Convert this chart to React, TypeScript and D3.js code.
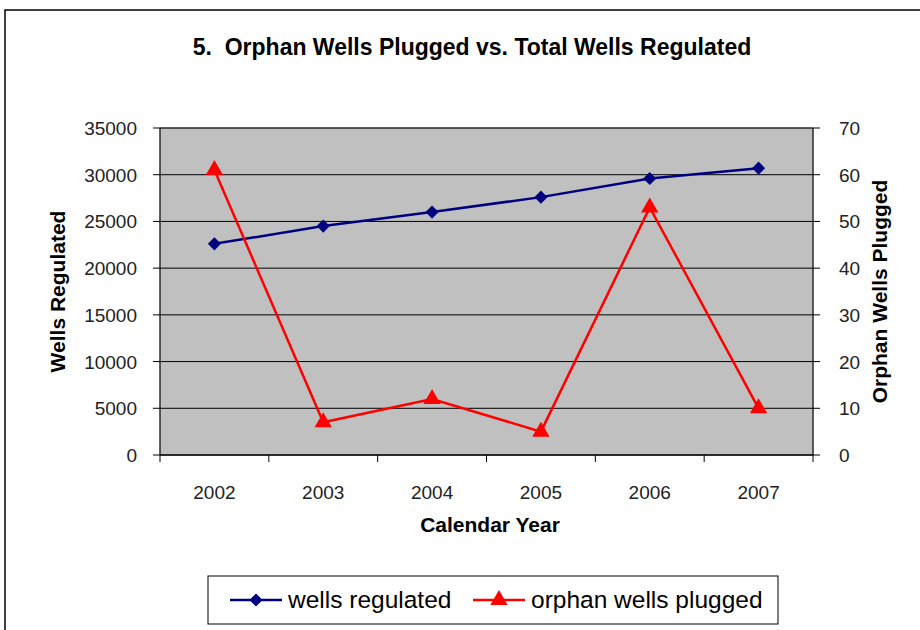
import React from 'react';
import * as d3 from 'd3';

const years = ['2002', '2003', '2004', '2005', '2006', '2007'];
const wellsRegulated = [22600, 24500, 26000, 27600, 29600, 30700];
const orphanPlugged = [61, 7, 12, 5, 53, 10];
const leftTicks = [0, 5000, 10000, 15000, 20000, 25000, 30000, 35000];
const rightTicks = [0, 10, 20, 30, 40, 50, 60, 70];

const W = 920;
const H = 630;
const m = { left: 160, right: 813, top: 128, bottom: 455 };
const font = 'Arial, "Liberation Sans", sans-serif';

const App: React.FC = () => {
  const x = d3.scaleBand<string>().domain(years).range([m.left, m.right]);
  const yL = d3.scaleLinear().domain([0, 35000]).range([m.bottom, m.top]);
  const yR = d3.scaleLinear().domain([0, 70]).range([m.bottom, m.top]);
  const cx = (d: string) => (x(d) as number) + x.bandwidth() / 2;

  const blueLine = d3.line<number>()
    .x((_, i) => cx(years[i]))
    .y(d => yL(d));
  const redLine = d3.line<number>()
    .x((_, i) => cx(years[i]))
    .y(d => yR(d));

  const diamond = d3.symbol().type(d3.symbolDiamond2).size(110)() as string;
  const triangle = d3.symbol().type(d3.symbolTriangle).size(130)() as string;

  return (
    <svg width={W} height={H} style={{ position: 'absolute', left: 0, top: 0 }} fontFamily={font}>
      <rect x={0} y={0} width={W} height={H} fill="#fff" />
      {/* outer chart border */}
      <rect x={5} y={10} width={W + 10} height={H + 10} fill="none" stroke="#000" strokeWidth={1.5} />

      <text x={472} y={55} textAnchor="middle" fontSize={23} fontWeight="bold" style={{ whiteSpace: 'pre' }}>
        {'5.  Orphan Wells Plugged vs. Total Wells Regulated'}
      </text>

      {/* plot area */}
      <rect x={m.left} y={m.top} width={m.right - m.left} height={m.bottom - m.top} fill="#c0c0c0" stroke="#808080" />

      {/* gridlines */}
      {leftTicks.map(t => (
        <line key={`g-${t}`} x1={m.left} x2={m.right} y1={yL(t)} y2={yL(t)} stroke="#000" strokeWidth={1} />
      ))}

      {/* left axis */}
      <line x1={m.left} x2={m.left} y1={m.top} y2={m.bottom} stroke="#000" />
      {leftTicks.map(t => (
        <g key={`l-${t}`}>
          <line x1={m.left - 7} x2={m.left} y1={yL(t)} y2={yL(t)} stroke="#000" />
          <text x={137} y={yL(t) + 7} textAnchor="end" fontSize={19} fill="#222">{t}</text>
        </g>
      ))}

      {/* right axis */}
      <line x1={m.right} x2={m.right} y1={m.top} y2={m.bottom} stroke="#000" />
      {rightTicks.map(t => (
        <g key={`r-${t}`}>
          <line x1={m.right} x2={m.right + 7} y1={yR(t)} y2={yR(t)} stroke="#000" />
          <text x={839} y={yR(t) + 7} textAnchor="start" fontSize={19} fill="#222">{t}</text>
        </g>
      ))}

      {/* x axis */}
      <line x1={m.left} x2={m.right} y1={m.bottom} y2={m.bottom} stroke="#000" />
      {[...years.map(d => x(d) as number), m.right].map((p, i) => (
        <line key={`xt-${i}`} x1={p} x2={p} y1={m.bottom} y2={m.bottom + 7} stroke="#000" />
      ))}
      {years.map(d => (
        <text key={`xl-${d}`} x={cx(d)} y={499} textAnchor="middle" fontSize={19} fill="#222">{d}</text>
      ))}

      {/* axis titles */}
      <text x={490} y={532} textAnchor="middle" fontSize={21} fontWeight="bold">Calendar Year</text>
      <text transform={`translate(65,${(m.top + m.bottom) / 2}) rotate(-90)`} textAnchor="middle" fontSize={21} fontWeight="bold">
        Wells Regulated
      </text>
      <text transform={`translate(887,${(m.top + m.bottom) / 2}) rotate(-90)`} textAnchor="middle" fontSize={21} fontWeight="bold">
        Orphan Wells Plugged
      </text>

      {/* series */}
      <path d={blueLine(wellsRegulated) as string} fill="none" stroke="#000080" strokeWidth={2.5} />
      {wellsRegulated.map((v, i) => (
        <path key={`d-${i}`} d={diamond} transform={`translate(${cx(years[i])},${yL(v)})`} fill="#000080" />
      ))}
      <path d={redLine(orphanPlugged) as string} fill="none" stroke="#ff0000" strokeWidth={2.5} />
      {orphanPlugged.map((v, i) => (
        <path key={`t-${i}`} d={triangle} transform={`translate(${cx(years[i])},${yR(v)})`} fill="#ff0000" />
      ))}

      {/* legend */}
      <rect x={208} y={576} width={570} height={48} fill="#fff" stroke="#000" />
      <line x1={230} x2={282} y1={600} y2={600} stroke="#000080" strokeWidth={2.5} />
      <path d={diamond} transform="translate(256,600)" fill="#000080" />
      <text x={288} y={608} fontSize={24.5}>wells regulated</text>
      <line x1={473} x2={525} y1={600} y2={600} stroke="#ff0000" strokeWidth={2.5} />
      <path d={triangle} transform="translate(499,600)" fill="#ff0000" />
      <text x={531} y={608} fontSize={24.5}>orphan wells plugged</text>
    </svg>
  );
};

export default App;
